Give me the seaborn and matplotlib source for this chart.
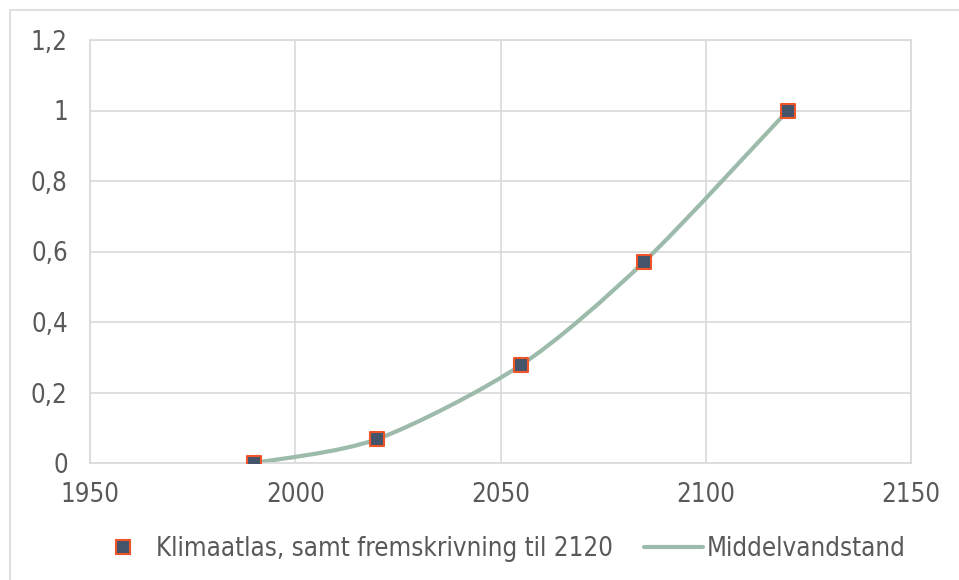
import numpy as np
import pandas as pd
import seaborn as sns
import matplotlib
matplotlib.use("Agg")
import matplotlib.pyplot as plt
from matplotlib.path import Path
from matplotlib.patches import PathPatch, Rectangle
from matplotlib.lines import Line2D

# Sea level projection data
years = [1990, 2020, 2055, 2085, 2120]
levels = [0.0, 0.068, 0.278, 0.571, 1.0]
x_ticks = [1950, 2000, 2050, 2100, 2150]
y_ticks = [0, 0.2, 0.4, 0.6, 0.8, 1.0, 1.2]
y_labels = ["0", "0,2", "0,4", "0,6", "0,8", "1", "1,2"]
marker_label = "Klimaatlas, samt fremskrivning til 2120"
line_label = "Middelvandstand"

df = pd.DataFrame({"year": years, "level": levels})

sns.set_theme(style="white")
plt.rcParams["font.family"] = ["DejaVu Sans"]
plt.rcParams["font.stretch"] = "condensed"

text_color = "#595959"
grid_color = "#D9D9D9"
line_color = "#9DBBAB"
marker_face = "#44546A"
marker_edge = "#F0552A"
fsize = 18.5

fig = plt.figure(figsize=(9.59, 5.8), dpi=100)
ax = fig.add_axes([90 / 959, 1 - 463 / 580, 821 / 959, 423 / 580])

# Chart border
fig.patches.append(Rectangle((10 / 959, -0.1), 1.2, 1 - 10 / 580 + 0.1,
                             transform=fig.transFigure, fill=False,
                             edgecolor=grid_color, linewidth=1.2))


def smooth_path(xs, ys, t=0.14):
    """Smoothed connector through the points using cubic Bezier segments."""
    pts = np.column_stack([xs, ys]).astype(float)
    n = len(pts)
    verts = [tuple(pts[0])]
    codes = [Path.MOVETO]
    for i in range(n - 1):
        p0 = pts[i - 1] if i > 0 else pts[i]
        p1 = pts[i]
        p2 = pts[i + 1]
        p3 = pts[i + 2] if i + 2 < n else pts[i + 1]
        c1 = p1 + (p2 - p0) * t
        c2 = p2 - (p3 - p1) * t
        verts += [tuple(c1), tuple(c2), tuple(p2)]
        codes += [Path.CURVE4] * 3
    return Path(verts, codes)


ax.add_patch(PathPatch(smooth_path(df["year"], df["level"]), facecolor="none",
                       edgecolor=line_color, linewidth=3, zorder=2,
                       capstyle="round"))

sns.scatterplot(data=df, x="year", y="level", ax=ax, marker="s", s=105,
                color=marker_face, edgecolor=marker_edge, linewidth=1.5,
                zorder=3, legend=False)

ax.set_xlim(1950, 2150)
ax.set_ylim(0, 1.2)
ax.set_xticks(x_ticks)
ax.set_xticklabels([str(v) for v in x_ticks])
ax.set_yticks(y_ticks)
ax.set_yticklabels(y_labels)
ax.grid(True, color=grid_color, linewidth=1.2)
ax.set_axisbelow(True)
for sp in ax.spines.values():
    sp.set_color(grid_color)
    sp.set_linewidth(1.2)
ax.set_xlabel("")
ax.set_ylabel("")
ax.tick_params(axis="both", colors=text_color, labelsize=fsize, length=0)
ax.tick_params(axis="y", pad=16)
ax.tick_params(axis="x", pad=14)

handles = [
    Line2D([], [], linestyle="none", marker="s", markersize=9.5,
           markerfacecolor=marker_face, markeredgecolor=marker_edge,
           markeredgewidth=1.5),
    Line2D([], [], color=line_color, linewidth=3),
]
fig.legend(handles, [marker_label, line_label], loc="center",
           bbox_to_anchor=(0.521, 1 - 549 / 580), ncol=2, frameon=False,
           fontsize=fsize, labelcolor=text_color, handlelength=2.3,
           handletextpad=0.15, columnspacing=1.2)

fig.savefig("out.png", dpi=100)
